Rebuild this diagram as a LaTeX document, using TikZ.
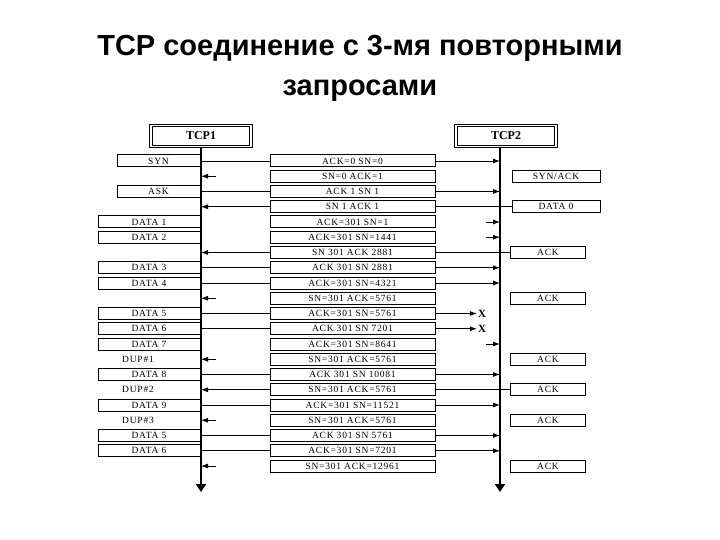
\documentclass[tikz,border=0pt]{standalone}
\usepackage{fontspec}
\setmainfont{Liberation Serif}
\setsansfont{Liberation Sans}
\usetikzlibrary{arrows.meta}
\begin{document}
\begin{tikzpicture}[x=1pt,y=-1pt,
  lbl/.style={draw,line width=1pt,minimum height=12pt,inner sep=0pt,font=\fontsize{9.5}{10}\selectfont\addfontfeatures{LetterSpace=8}},
  lbox/.style={lbl,minimum width=102pt},
  sbox/.style={lbl,minimum width=83pt},
  mbox/.style={lbl,minimum width=165pt},
  rbox/.style={lbl,minimum width=75pt},
  hbox/.style={draw,double,double distance=1.5pt,line width=0.9pt,minimum width=100pt,minimum height=21pt,font=\fontsize{12}{12}\selectfont\bfseries},
  life/.style={line width=2pt,-{Triangle[width=10pt,length=8pt]}},
  msg/.style={line width=0.8pt},
  amsg/.style={line width=0.8pt,-{Latex[length=7pt,width=5pt]}}]
\useasboundingbox (0,0) rectangle (720,540);
\node[font=\fontsize{29}{40}\selectfont\sffamily\bfseries,align=center] (title) at (360,68) {TCP соединение с 3-мя повторными\\запросами};
\node[hbox] (h1) at (201,136) {TCP1};
\node[hbox] (h2) at (506,136) {TCP2};
\coordinate (p1t) at (201,147); \coordinate (p1b) at (201,492);
\coordinate (p2t) at (500,147); \coordinate (p2b) at (500,492);
\draw[life] (p1t) -- (p1b);
\draw[life] (p2t) -- (p2b);
% middle boxes
\foreach \i/\t in {1/ACK=0 SN=0,2/SN=0 ACK=1,3/ACK 1 SN 1,4/SN 1 ACK 1,5/ACK=301 SN=1,6/ACK=301 SN=1441,7/SN 301 ACK 2881,8/ACK 301 SN 2881,9/ACK=301 SN=4321,10/SN=301 ACK=5761,11/ACK=301 SN=5761,12/ACK 301 SN 7201,13/ACK=301 SN=8641,14/SN=301 ACK=5761,15/ACK 301 SN 10081,16/SN=301 ACK=5761,17/ACK=301 SN=11521,18/SN=301 ACK=5761,19/ACK 301 SN 5761,20/ACK=301 SN=7201,21/SN=301 ACK=12961}
  \node[mbox] (m\i) at (352.5,{161+(\i-1)*15.25}) {\t};
% left boxes
\node[sbox] (l1) at (158.5,161) {SYN};
\node[sbox] (l3) at (158.5,191.5) {ASK};
\foreach \i/\t in {5/DATA 1,6/DATA 2,8/DATA 3,9/DATA 4,11/DATA 5,12/DATA 6,13/DATA 7,15/DATA 8,17/DATA 9,19/DATA 5,20/DATA 6}
  \node[lbox] (l\i) at (149,{161+(\i-1)*15.25}) {\t};
\foreach \i/\t in {14/DUP\#1,16/DUP\#2,18/DUP\#3}
  \node[font=\fontsize{9.5}{10}\selectfont\addfontfeatures{LetterSpace=8}] (l\i) at (138,{161+(\i-1)*15.25}) {\t};
% right boxes
\node[rbox,minimum width=88pt] (r2) at (556,176.25) {SYN/ACK};
\node[rbox,minimum width=88pt] (r4) at (556,206.75) {DATA 0};
\foreach \i in {7,10,14,16,18,21}
  \node[rbox] (r\i) at (548,{161+(\i-1)*15.25}) {ACK};
% full right messages
\foreach \i in {1,3,8,9,15,17,19,20}{
  \draw[msg] (l\i.east) -- (m\i.west);
  \draw[amsg] (m\i.east) -- (p2t |- m\i);}
% right head only
\foreach \i in {5,6,13}{
  \coordinate (s\i) at (486,{161+(\i-1)*15.25});
  \draw[amsg] (s\i) -- (p2t |- m\i);}
% full left
\foreach \i in {4,7,16}{
  \draw[msg] (r\i.west) -- (m\i.east);
  \draw[amsg] (m\i.west) -- (p1t |- m\i);}
% left head only
\foreach \i in {2,10,14,18,21}{
  \coordinate (s\i) at (216,{161+(\i-1)*15.25});
  \draw[amsg] (s\i) -- (p1t |- m\i);}
% lost
\foreach \i in {11,12}{
  \draw[msg] (l\i.east) -- (m\i.west);
  \node[font=\fontsize{11}{11}\selectfont\bfseries,inner sep=1pt] (x\i) at (482,{161+(\i-1)*15.25}) {X};
  \draw[amsg] (m\i.east) -- (x\i.west);}
\end{tikzpicture}
\end{document}
